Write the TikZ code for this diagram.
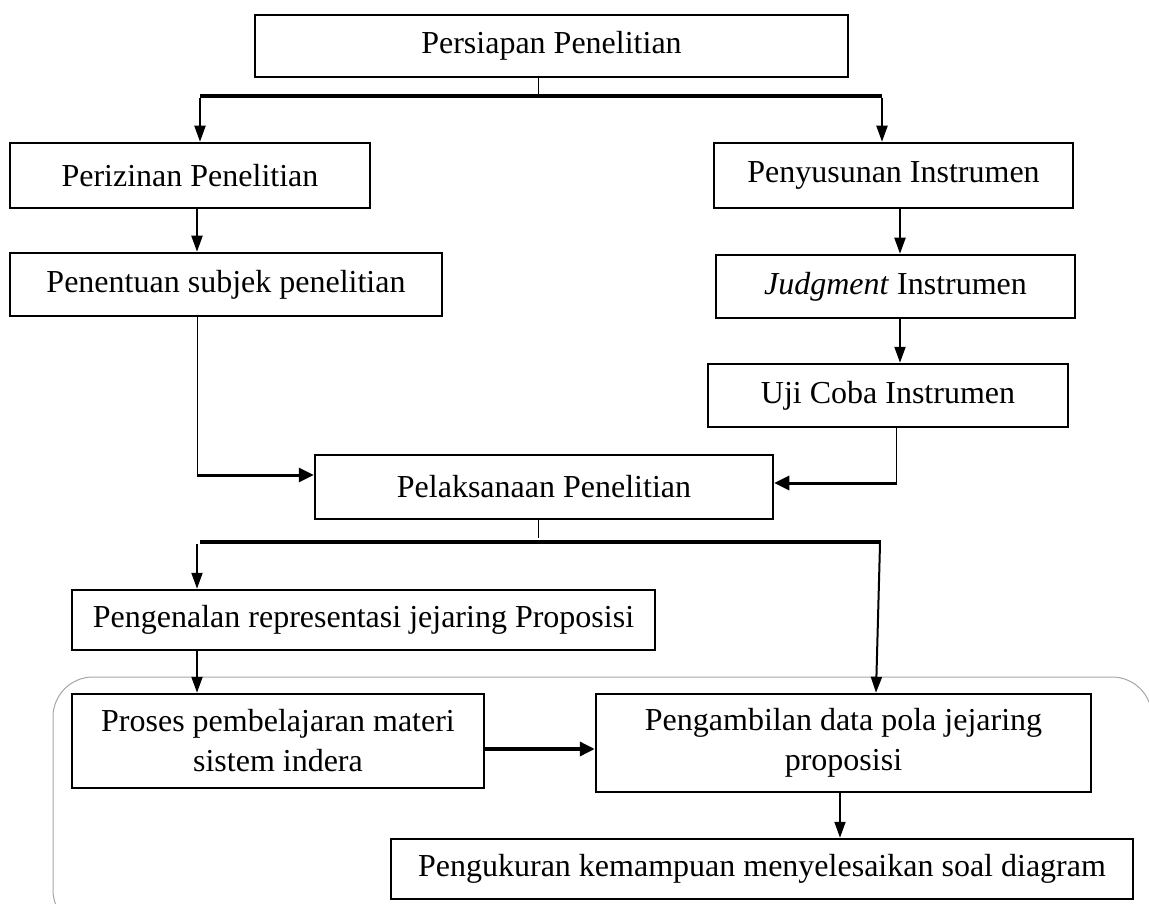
\documentclass[tikz,border=0pt]{standalone}
\usepackage{fontspec}
\setmainfont{Liberation Serif}
\usetikzlibrary{arrows.meta}
\begin{document}
\begin{tikzpicture}[x=1pt,y=-1pt,
  box/.style={draw=black,line width=2.5pt,minimum width=#1,inner sep=0pt,align=center,
    font=\fontsize{32}{40}\selectfont},
  thin/.style={line width=1pt},
  bar/.style={line width=4.5pt},
  arr/.style={line width=2pt,-{Triangle[length=16pt,width=11pt]}},
  arrthick/.style={line width=3.5pt,-{Triangle[length=15pt,width=14pt]}},
]
\useasboundingbox (0,0) rectangle (1149,904);
\begin{scope}
\clip (0,0) rectangle (1149,904);
\draw[line width=1pt,gray!70,rounded corners=40pt] (53,677) rectangle (1152,930);
\end{scope}

\node[box=593pt,minimum height=62pt] (p1) at (551.5,46) {Persiapan Penelitian};
\node[box=360pt,minimum height=65pt] (izin) at (190,175.5) {Perizinan Penelitian};
\node[box=359pt,minimum height=65pt] (susun) at (893.5,175.5) {Penyusunan Instrumen};
\node[box=432pt,minimum height=63pt] (subjek) at (226,284.5) {Penentuan subjek penelitian};
\node[box=359pt,minimum height=63pt] (judg) at (895.5,286.5) {\textit{Judgment} Instrumen};
\node[box=360pt,minimum height=63pt] (uji) at (888,395.5) {Uji Coba Instrumen};
\node[box=458pt,minimum height=64pt] (laks) at (544,487) {Pelaksanaan Penelitian};
\node[box=583pt,minimum height=60pt] (kenal) at (363.5,620) {Pengenalan representasi jejaring Proposisi};
\node[box=412pt,minimum height=94pt] (proses) at (278,741) {Proses pembelajaran materi\\sistem indera};
\node[box=495pt,minimum height=98pt] (ambil) at (843.5,743) {Pengambilan data pola jejaring\\proposisi};
\node[box=742pt,minimum height=60pt] (ukur) at (762,869) {Pengukuran kemampuan menyelesaikan soal diagram};

% top split
\coordinate (t0) at (538,94);
\coordinate (tl) at (200,96);
\coordinate (tr) at (882,96);
\draw[thin] (p1.south -| t0) -- (t0);
\draw[bar] (tl) -- (tr);
\draw[arr] ([yshift=-2pt]tl) -- (tl |- izin.north);
\draw[arr] ([yshift=-2pt]tr) -- (tr |- susun.north);

\draw[arr] (izin.south -| 197,0) -- (subjek.north -| 197,0);
\draw[arr] (susun.south -| 900,0) -- (judg.north -| 900,0);
\draw[arr] (judg.south -| 900,0) -- (uji.north -| 900,0);

% into pelaksanaan
\coordinate (cl) at (197,475);
\coordinate (cr) at (896,483);
\draw[thin] (subjek.south -| cl) -- (cl);
\draw[line width=3pt,-{Triangle[length=15pt,width=14pt]}] ([xshift=-0.5pt]cl) -- (cl -| laks.west);
\draw[thin] (uji.south -| cr) -- (cr);
\draw[line width=3pt,-{Triangle[length=15pt,width=14pt]}] ([xshift=0.5pt]cr) -- (cr -| laks.east);

% second split
\coordinate (m0) at (538,538);
\coordinate (ml) at (200,542);
\coordinate (mr) at (881,542);
\draw[thin] (laks.south -| m0) -- (m0);
\draw[bar] (ml) -- (mr);
\draw[arr] ([xshift=-3pt,yshift=-2pt]ml) -- (kenal.north -| 197,0);
\draw[arr] ([xshift=-1pt,yshift=-2pt]mr) -- (ambil.north -| 876,0);

\draw[arr] (kenal.south -| 197,0) -- (proses.north -| 197,0);
\draw[arrthick] (proses.east |- 0,749) -- (ambil.west |- 0,749);
\draw[arr] (ambil.south -| 840,0) -- (ukur.north -| 840,0);
\end{tikzpicture}
\end{document}
